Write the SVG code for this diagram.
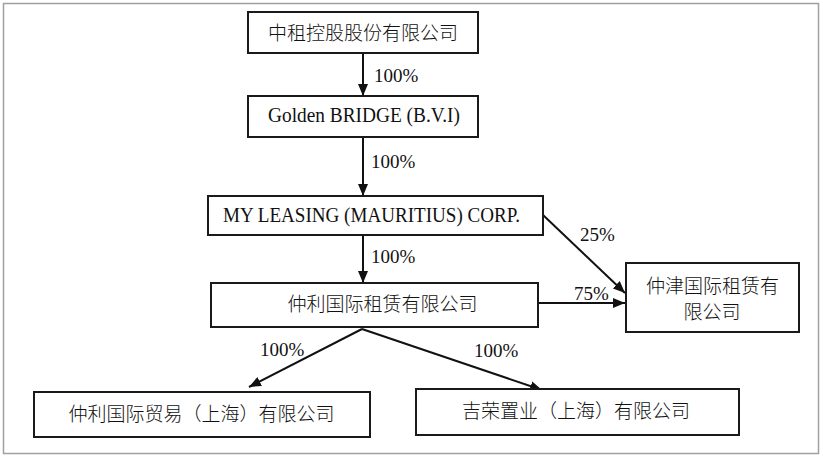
<svg xmlns="http://www.w3.org/2000/svg" width="823" height="459" viewBox="0 0 823 459">
<style>
.box{fill:#fff;stroke:#1a1a1a;stroke-width:2}
.cn{font-family:"Noto Sans CJK SC","Noto Sans",sans-serif;font-size:19px;font-weight:300;fill:#111}
.en{font-family:"Liberation Serif","Times New Roman",serif;fill:#111}
.pct{font-family:"Liberation Serif","Times New Roman",serif;font-size:19px;fill:#111}
.edge{stroke:#111;stroke-width:2;fill:none;marker-end:url(#ah)}
</style>
<defs>
<marker id="ah" markerUnits="userSpaceOnUse" markerWidth="12" markerHeight="10" refX="12" refY="5" orient="auto">
<path d="M0,0 L12,5 L0,10 z" fill="#111"/>
</marker>
</defs>
<rect x="0" y="0" width="823" height="459" fill="#fff"/>
<rect x="3.5" y="3.5" width="815" height="450" fill="none" stroke="#a0a0a0" stroke-width="1.5"/>
<g id="connectors">
<line class="edge" x1="363" y1="53" x2="363" y2="96"/>
<line class="edge" x1="363" y1="137" x2="363" y2="196"/>
<line class="edge" x1="363" y1="235" x2="363" y2="283"/>
<line class="edge" x1="543" y1="215" x2="625" y2="293"/>
<line class="edge" x1="538" y1="303" x2="625" y2="303"/>
<line class="edge" x1="362" y1="329" x2="249" y2="387"/>
<line class="edge" x1="362" y1="329" x2="542" y2="390"/>
<text class="pct" x="374" y="82">100%</text>
<text class="pct" x="371" y="168">100%</text>
<text class="pct" x="371" y="263">100%</text>
<text class="pct" x="580" y="241">25%</text>
<text class="pct" x="574" y="300">75%</text>
<text class="pct" x="260" y="356">100%</text>
<text class="pct" x="474" y="357">100%</text>
</g>
<g id="n1">
<rect class="box" x="248" y="12" width="230" height="41"/>
<text class="cn" x="363" y="40" text-anchor="middle">中租控股股份有限公司</text>
</g>
<g id="n2">
<rect class="box" x="248" y="96" width="230" height="41"/>
<text class="en" x="268" y="122" font-size="21" textLength="192" lengthAdjust="spacingAndGlyphs">Golden BRIDGE (B.V.I)</text>
</g>
<g id="n3">
<rect class="box" x="208" y="196" width="335" height="39"/>
<text class="en" x="223" y="222" font-size="20" textLength="297" lengthAdjust="spacingAndGlyphs">MY LEASING (MAURITIUS) CORP.</text>
</g>
<g id="n4">
<rect class="box" x="211" y="283" width="327" height="44"/>
<text class="cn" x="382.5" y="311" text-anchor="middle">仲利国际租赁有限公司</text>
</g>
<g id="n5">
<rect class="box" x="626" y="263" width="173" height="69"/>
<text class="cn" x="712.5" y="293" text-anchor="middle">仲津国际租赁有</text>
<text class="cn" x="712" y="319" text-anchor="middle">限公司</text>
</g>
<g id="n6">
<rect class="box" x="34" y="392" width="336" height="45"/>
<text class="cn" x="201.5" y="421" text-anchor="middle">仲利国际贸易（上海）有限公司</text>
</g>
<g id="n7">
<rect class="box" x="416" y="389" width="323" height="46"/>
<text class="cn" x="576" y="418" text-anchor="middle">吉荣置业（上海）有限公司</text>
</g>
</svg>
